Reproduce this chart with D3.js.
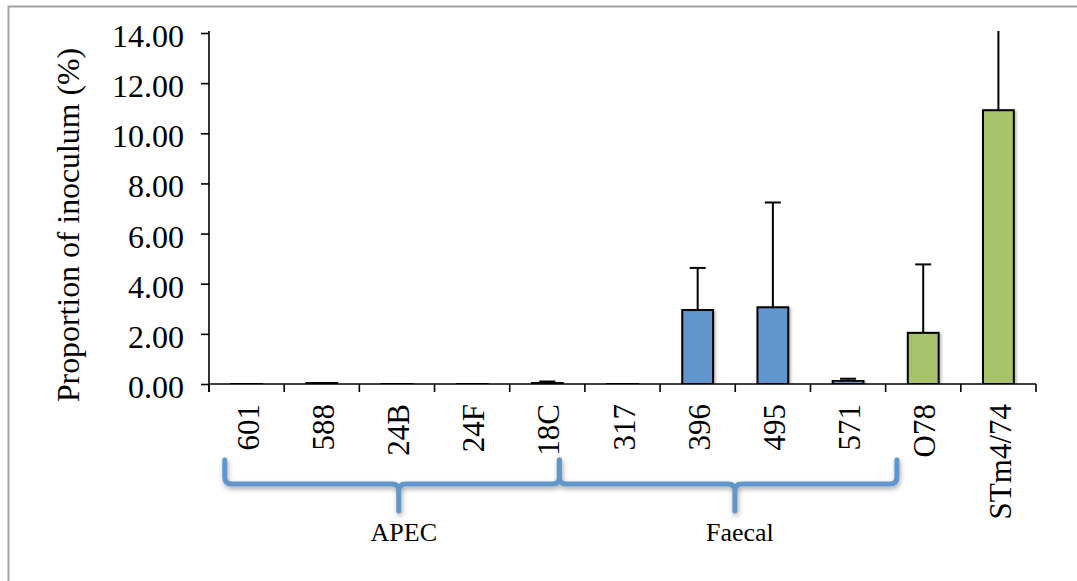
<html>
<head>
<title>Proportion of inoculum</title>
<script src="https://cdn.jsdelivr.net/npm/d3@7"></script>
<style>
body { margin: 0; background: #ffffff; }
text { font-family: "Liberation Serif", "Times New Roman", serif; fill: #000000; }
</style>
</head>
<body>
<div id="canvas"></div>
<script>

// data
var strains = ["601", "588", "24B", "24F", "18C", "317", "396", "495", "571", "O78", "STm4/74"];
var means   = [0.02, 0.05, 0.03, 0.02, 0.06, 0.01, 2.95, 3.06, 0.13, 2.04, 10.92];
var errUp   = [0.00, 0.00, 0.00, 0.00, 0.04, 0.00, 1.68, 4.18, 0.08, 2.73, 4.60];
var barKind = ["iso", "iso", "iso", "iso", "iso", "iso", "iso", "iso", "iso", "ctrl", "ctrl"];
var yTicks  = [0, 2, 4, 6, 8, 10, 12, 14];

var groupNames = ["APEC", "Faecal"];
var groupFrom  = ["601", "18C"];
var groupTo    = ["18C", "571"];

var W = 1077, H = 581;
var pLeft = 209, pRight = 1036, pTop = 33, pBottom = 384;

var colors = { iso: "#6096cb", ctrl: "#a8c46a" };

var svg = d3.select("#canvas")
            .append("svg")
            .attr("width", W)
            .attr("height", H);

var defs = svg.append("defs");
var shadow = defs.append("filter").attr("id", "shadow")
                 .attr("x", "-20%").attr("y", "-20%").attr("width", "150%").attr("height", "150%");
shadow.append("feDropShadow").attr("dx", 1.5).attr("dy", 1.5).attr("stdDeviation", 1.5)
      .attr("flood-color", "#000").attr("flood-opacity", 0.3);
var soft = defs.append("filter").attr("id", "soft")
               .attr("x", "-10%").attr("y", "-50%").attr("width", "120%").attr("height", "200%");
soft.append("feDropShadow").attr("dx", 1).attr("dy", 2.5).attr("stdDeviation", 2.5)
    .attr("flood-color", "#000").attr("flood-opacity", 0.35);
defs.append("clipPath").attr("id", "plotclip")
    .append("rect").attr("x", pLeft - 20).attr("y", pTop - 2)
    .attr("width", pRight - pLeft + 40).attr("height", pBottom - pTop + 2);

// outer frame
svg.append("rect")
   .attr("x", 8.5).attr("y", 6.5)
   .attr("width", W + 20).attr("height", H + 20)
   .attr("fill", "none")
   .attr("stroke", "#a3a3a3")
   .attr("stroke-width", 2);

var x = d3.scaleBand()
          .domain(strains)
          .range([pLeft, pRight])
          .paddingInner(0.59)
          .paddingOuter(0.295);
var step = x.step();
var cx = function(d) { return x(d) + x.bandwidth() / 2; };

var y = d3.scaleLinear()
          .domain([0, 14])
          .range([pBottom, pTop]);

// y axis
var yAxis = svg.append("g")
               .attr("transform", "translate(" + pLeft + ",0)")
               .call(d3.axisLeft(y).tickValues(yTicks).tickSize(8).tickPadding(17)
                       .tickFormat(d3.format(".2f")));
yAxis.select(".domain").attr("stroke-width", 1.6).attr("d", "M0," + (pTop - 2) + "V" + (pBottom + 8));
yAxis.selectAll(".tick line").attr("stroke-width", 1.6);
yAxis.selectAll(".tick text")
     .style("font-size", "32px")
     .attr("dy", "0.42em");

// title
svg.append("text")
   .attr("transform", "translate(79," + 225 + ") rotate(-90)")
   .attr("text-anchor", "middle")
   .style("font-size", "31.8px")
   .text("Proportion of inoculum (%)");

var plot = svg.append("g").attr("clip-path", "url(#plotclip)");

// bars
plot.selectAll("rect.bar")
    .data(strains)
    .enter()
    .append("rect")
    .attr("class", "bar")
    .attr("x", function(d) { return x(d); })
    .attr("width", x.bandwidth())
    .attr("y", function(d, i) { return y(means[i]); })
    .attr("height", function(d, i) { return y(0) - y(means[i]); })
    .attr("fill", function(d, i) { return colors[barKind[i]]; })
    .attr("stroke", "#000")
    .attr("stroke-width", 2)
    .attr("filter", "url(#shadow)");

// error bars (upper only)
var errData = strains.map(function(d, i) { return { s: d, m: means[i], e: errUp[i] }; })
                     .filter(function(d) { return d.e > 0; });
var errs = plot.selectAll("g.err")
               .data(errData)
               .enter()
               .append("g")
               .attr("class", "err");
errs.append("line")
    .attr("x1", function(d) { return cx(d.s); })
    .attr("x2", function(d) { return cx(d.s); })
    .attr("y1", function(d) { return y(d.m); })
    .attr("y2", function(d) { return y(d.m + d.e); })
    .attr("stroke", "#000")
    .attr("stroke-width", 2);
errs.append("line")
    .attr("x1", function(d) { return cx(d.s) - 8; })
    .attr("x2", function(d) { return cx(d.s) + 8; })
    .attr("y1", function(d) { return y(d.m + d.e); })
    .attr("y2", function(d) { return y(d.m + d.e); })
    .attr("stroke", "#000")
    .attr("stroke-width", 2);

// x axis
var xAxis = svg.append("g").attr("transform", "translate(0," + pBottom + ")");
xAxis.append("line")
     .attr("x1", pLeft).attr("x2", pRight)
     .attr("stroke", "#000").attr("stroke-width", 1.6);
xAxis.selectAll("line.tick")
     .data(d3.range(strains.length + 1))
     .enter()
     .append("line")
     .attr("class", "tick")
     .attr("x1", function(i) { return pLeft + i * step; })
     .attr("x2", function(i) { return pLeft + i * step; })
     .attr("y1", 0).attr("y2", 8)
     .attr("stroke", "#000").attr("stroke-width", 1.6);
xAxis.selectAll("text")
     .data(strains)
     .enter()
     .append("text")
     .attr("transform", function(d) {
        return "translate(" + (cx(d) + 1) + ",20) rotate(-90)";
     })
     .attr("dy", "0.36em")
     .attr("text-anchor", "end")
     .style("font-size", "31px")
     .text(function(d) { return d; });

// group braces
var braceTop = 460, braceLine = 484, braceTip = 511, r = 7;
var braceG = svg.append("g").attr("filter", "url(#soft)");
groupNames.forEach(function(name, i) {
   var x0 = i === 0 ? cx(groupFrom[i]) - step * 0.29 : cx(groupFrom[i]) + step * 0.16;
   var x1 = i === 0 ? cx(groupTo[i]) + step * 0.16 : cx(groupTo[i]) + step * 0.65;
   var xm = x0 + (x1 - x0) * 0.52;
   var p = "M" + x0 + "," + braceTop +
           "L" + x0 + "," + (braceLine - r) +
           "Q" + x0 + "," + braceLine + " " + (x0 + r) + "," + braceLine +
           "L" + (xm - r) + "," + braceLine +
           "Q" + xm + "," + braceLine + " " + xm + "," + (braceLine + r) +
           "L" + xm + "," + braceTip +
           "M" + xm + "," + (braceLine + r) +
           "Q" + xm + "," + braceLine + " " + (xm + r) + "," + braceLine +
           "L" + (x1 - r) + "," + braceLine +
           "Q" + x1 + "," + braceLine + " " + x1 + "," + (braceLine - r) +
           "L" + x1 + "," + braceTop;
   braceG.append("path")
         .attr("d", p)
         .attr("fill", "none")
         .attr("stroke", "#6096cb")
         .attr("stroke-width", 5)
         .attr("stroke-linecap", "round");
   svg.append("text")
      .attr("x", xm + 5)
      .attr("y", 541)
      .attr("text-anchor", "middle")
      .style("font-size", "26px")
      .text(name);
});

</script>
</body>
</html>
